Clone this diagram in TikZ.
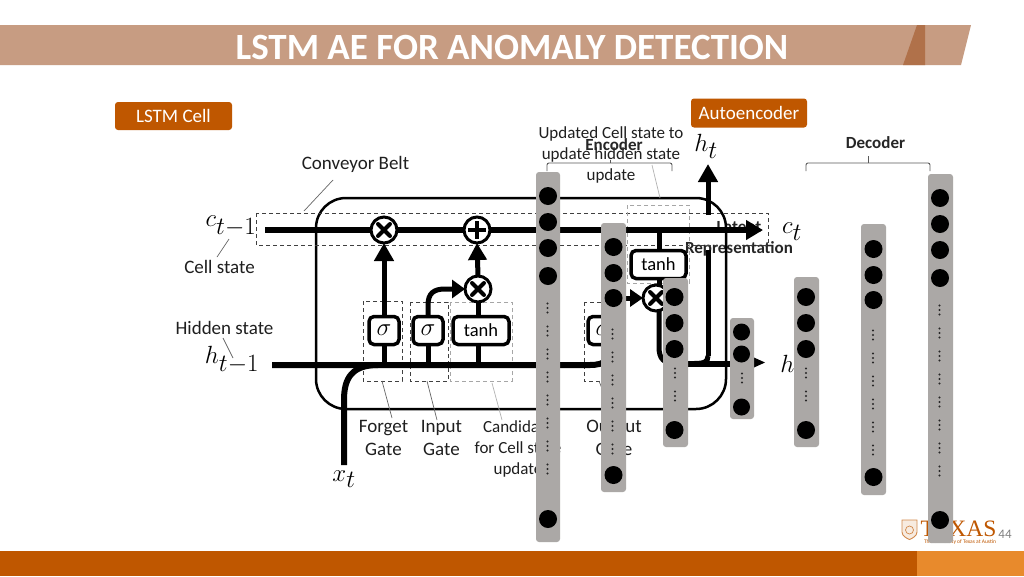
\documentclass[tikz,border=0pt]{standalone}
\usepackage{fontspec}
\setmainfont{Carlito}
\newfontfamily\serifx{Liberation Serif}
\usetikzlibrary{arrows.meta,calc}
\DeclareMathSizes{30}{30}{24}{20}
\definecolor{uto}{HTML}{BF5700}
\definecolor{uta}{HTML}{E88A2C}
\definecolor{band}{HTML}{C79C82}
\definecolor{bandd}{HTML}{B0714A}
\definecolor{barg}{HTML}{ABA8A6}
\tikzset{
  every node/.style={inner sep=0pt,outer sep=0pt},
  lbl/.style={font=\fontsize{19}{23}\selectfont,text=black!88,align=center},
  slbl/.style={font=\fontsize{17}{21}\selectfont,text=black!88,align=center},
  blbl/.style={font=\fontsize{17}{21}\selectfont\bfseries,text=black!85,align=center},
  mth/.style={font=\fontsize{30}{34}\selectfont,text=black},
  tag/.style={fill=uto,rounded corners=3pt,text=white,font=\fontsize{19}{22}\selectfont},
  heavy/.style={line width=6pt,black},
  med/.style={line width=5pt,black},
  tipup/.style={-{Triangle[length=18pt,width=19pt]}},
  cell/.style={draw=black,line width=3.5pt,fill=white,rounded corners=5pt,minimum height=28pt,font=\fontsize{18.5}{22}\selectfont},
  sigcell/.style={cell,minimum width=30pt,font=\fontsize{27}{30}\selectfont},
  opx/.style={circle,draw=black,line width=3pt,fill=white,minimum size=26pt,
    path picture={\draw[line width=4pt,line cap=round] ($(path picture bounding box.center)+(-6,-6)$)--($(path picture bounding box.center)+(6,6)$);
                  \draw[line width=4pt,line cap=round] ($(path picture bounding box.center)+(-6,6)$)--($(path picture bounding box.center)+(6,-6)$);}},
  opp/.style={circle,draw=black,line width=3pt,fill=white,minimum size=26pt,
    path picture={\draw[line width=4pt] ($(path picture bounding box.center)+(-9,0)$)--($(path picture bounding box.center)+(9,0)$);
                  \draw[line width=4pt] ($(path picture bounding box.center)+(0,-9)$)--($(path picture bounding box.center)+(0,9)$);}},
  gatebox/.style={draw=black!75,dashed,line width=1pt,dash pattern=on 4pt off 3pt},
  graybox/.style={draw=black!35,dashed,line width=1pt,dash pattern=on 4pt off 3pt},
  leader/.style={draw=black!60,line width=.7pt},
  grayleader/.style={draw=black!30,line width=.7pt},
  brk/.style={draw=black!65,line width=.9pt,rounded corners=2pt},
  barx/.style={fill=barg,rounded corners=3pt},
  neuron/.style={circle,fill=black,minimum size=18pt},
  tick/.style={circle,fill=black!85,minimum size=2.4pt},
}
\newcommand{\ticks}[2]{\foreach \k in {-4.5,0,4.5}{\node[tick] at (#1,#2+\k) {};}}
\begin{document}
\begin{tikzpicture}[x=1pt,y=-1pt]
\useasboundingbox (0,0) rectangle (1024,576);
\fill[white] (0,0) rectangle (1024,576);
% header and footer
\fill[band] (0,25) -- (971,25) -- (961,65) -- (0,65) -- cycle;
\fill[bandd] (917,25) -- (925,25) -- (925,65) -- (903,65) -- cycle;
\node[font=\fontsize{37}{40}\selectfont\bfseries,text=white] (title) at (512,47) {LSTM AE FOR ANOMALY DETECTION};
\fill[uto] (0,551) rectangle (917,576);
\fill[uta] (917,551) rectangle (1024,576);
% logo
\draw[uto!70,line width=.9pt,fill=uto!12] (902,520) -- (917,520) -- (917,532) .. controls (917,536) and (912,538.5) .. (909.5,539.5) .. controls (907,538.5) and (902,536) .. (902,532) -- cycle;
\draw[uto!70,line width=.7pt] (909.5,530) circle (4pt);
\node[font=\serifx\fontsize{23.5}{26}\selectfont,text=uto] (texas) at (958.5,529) {TEXAS};
\node[font=\fontsize{5.5}{6}\selectfont,text=uto] (austin) at (960,542) {The University of Texas at Austin};
\node[font=\fontsize{13}{14}\selectfont,text=black!50] (pg) at (1005,534) {44};
% tags
\node[tag,minimum width=117pt,minimum height=28pt] (tagl) at (173.5,116) {LSTM Cell};
\node[tag,minimum width=116pt,minimum height=29pt] (taga) at (749,113) {Autoencoder};
% labels behind
\node[lbl] (belt) at (355.5,164) {Conveyor Belt};
\node[lbl] (cs) at (219.5,267) {Cell state};
\node[lbl] (hs) at (224.5,328) {Hidden state};
\node[lbl] (fg) at (383.5,438) {Forget\\[0pt]Gate};
\node[lbl] (ig) at (441.5,438) {Input\\[0pt]Gate};
\node[slbl] (cand) at (518,449) {Candidate\\for Cell state\\update};
\node[lbl] (og) at (614,438) {Output\\[0pt]Gate};
\node[slbl] (upd) at (611,155) {Updated Cell state to\\update hidden state\\update};
\node[blbl] (enc) at (614,145) {Encoder};
\node[blbl] (dec) at (875.5,143) {Decoder};
\node[blbl] (lat) at (739,238.5) {Latent\\Representation};
% math labels
\node[mth] (cprev) at (231,226) {$c_{t-1}$};
\node[mth] (hprev) at (232,360) {$h_{t-1}$};
\node[mth] (xt) at (344,479) {$x_t$};
\node[mth] (ht) at (706,146) {$h_t$};
\node[mth] (ct) at (792,232) {$c_t$};
\node[mth] (hout) at (792,367) {$h_t$};
% LSTM outline
\draw[line width=2.5pt,rounded corners=30pt,black] (316,198) rectangle (726,409);
% conveyor belt frame
\draw[gatebox] (256,213) rectangle (768,245);
% gate frames
\draw[gatebox] (363,301) rectangle (402,381);
\draw[gatebox] (410,302) rectangle (448,381);
\draw[graybox] (450,302) rectangle (512,381);
\draw[gatebox] (584,302) rectangle (622,381);
\draw[graybox] (627,205) rectangle (689,283);
% anchors
\coordinate (cstart) at (265,230);
\coordinate (cend) at (763,230);
\coordinate (hstart) at (272,365);
\coordinate (xstart) at (344,465);
\coordinate (htop) at (708,164);
\coordinate (htopb) at (708,215);
\coordinate (htopc) at (708,250);
% operator nodes
\node[opx] (mul1) at (384,230) {};
\node[opp] (add1) at (477,230) {};
\node[opx] (mul2) at (478,289) {};
\node[opx] (mul3) at (656,298) {};
\node[sigcell] (sig1) at (384,330.5) {$\sigma$};
\node[sigcell] (sig2) at (428,330.5) {$\sigma$};
\node[cell,minimum width=56pt] (tanh1) at (481,330.5) {tanh};
\node[sigcell] (sig3) at (603,330.5) {$\sigma$};
\node[cell,minimum width=55pt] (tanh2) at (658.5,264.5) {tanh};
% main lines
\draw[heavy] (cstart) -- (mul1.west);
\draw[heavy] (mul1.east) -- (add1.west);
\draw[heavy,-{Triangle[length=17pt,width=19pt]}] (add1.east) -- (cend);
\draw[heavy] (hstart) -- (590,365) .. controls (604,365) and (612,360) .. (612,345);
\draw[heavy] (xstart) -- (344,400) .. controls (344,378) and (352,365) .. (378,365);
% verticals
\draw[med] (sig1.south) -- (384,365);
\draw[med] (sig2.south) -- (428,365);
\draw[med] (478,344.5) -- (478,365);
\draw[med,tipup] (sig1.north) -- (mul1.south);
\draw[med,-{Triangle[length=17pt,width=18pt]}] (mul2.north) -- (add1.south);
\draw[med] (mul2.south) -- (478,316);
\draw[med,-{Triangle[length=13pt,width=18pt]}] (sig2.north) -- (428,305) .. controls (428,293) and (434,289) .. (445,289) -- (mul2.west);
% right section
\draw[med] (659,230) -- (659,250.5);
\draw[med] (659,278) -- (659,285);
\draw[med] (659,311) -- (659,347) .. controls (659,359) and (664,363.5) .. (675,363.5);
\draw[heavy] (675,363.5) -- (745,363.5);
\draw[med] (708,356) .. controls (708,362) and (704,363.5) .. (694,363.5);
\draw[med] (708,356) -- (htopc);
\draw[med,-{Triangle[length=18pt,width=19pt]}] (htopb) -- (htop);
\draw[med] (603,316) -- (603,298) -- (630,298);
\draw[med,-{Triangle[length=13pt,width=17pt]}] (626,298) -- (mul3.west);
\fill[black] (754,357.5) -- (765,362.5) -- (754,367.5) -- cycle;
% leaders
\draw[leader] (333,180) -- (304,211);
\draw[leader] (229,239) -- (217,257);
\draw[leader] (223,338) -- (233,358);
\draw[leader] (382,381) -- (392,418);
\draw[leader] (427,381) -- (437,420);
\draw[grayleader] (492,383) -- (502,420);
\draw[leader] (599,381) -- (605,396);
\draw[grayleader] (652,165) -- (660,198);
% brackets
\draw[brk] (547,171) -- (547,163) -- (672,163) -- (672,171);
\draw[brk] (610,163) -- (610,160);
\draw[brk] (806,171) -- (806,163) -- (930,163) -- (930,171);
\draw[brk] (868,163) -- (868,156);
% layer bars
\fill[barx] (536,172) rectangle (560,542);
\foreach \y in {196,222,248,276,519}{\node[neuron] at (548,\y) {};}
\foreach \y in {308,331,354,377,400,423,446,469}{\ticks{547.5}{\y}}
\fill[barx] (601,223) rectangle (626,492);
\foreach \y in {247,273,298,475}{\node[neuron] at (613.5,\y) {};}
\foreach \y in {334,357,380,403,426,449}{\ticks{612.5}{\y}}
\fill[barx] (663,278) rectangle (688,447);
\foreach \y in {297,323,349,430}{\node[neuron] at (674.5,\y) {};}
\foreach \y in {373,396}{\ticks{675}{\y}}
\fill[barx] (730,318) rectangle (754,419);
\foreach \y in {332,354,407}{\node[neuron,minimum size=17pt] at (741.5,\y) {};}
\ticks{742}{378}
\fill[barx] (794,277) rectangle (819,447);
\foreach \y in {297,323,349,430}{\node[neuron] at (806,\y) {};}
\foreach \y in {373,396}{\ticks{806}{\y}}
\fill[barx] (861,224) rectangle (886,495);
\foreach \y in {249,275,300,477}{\node[neuron] at (873.5,\y) {};}
\foreach \y in {335,358,381,404,427,450}{\ticks{873}{\y}}
\fill[barx] (928,174) rectangle (953,543);
\foreach \y in {198,224,250,278,520}{\node[neuron] at (940,\y) {};}
\foreach \y in {310,333,356,379,402,425,448,471}{\ticks{939.5}{\y}}
\end{tikzpicture}
\end{document}
